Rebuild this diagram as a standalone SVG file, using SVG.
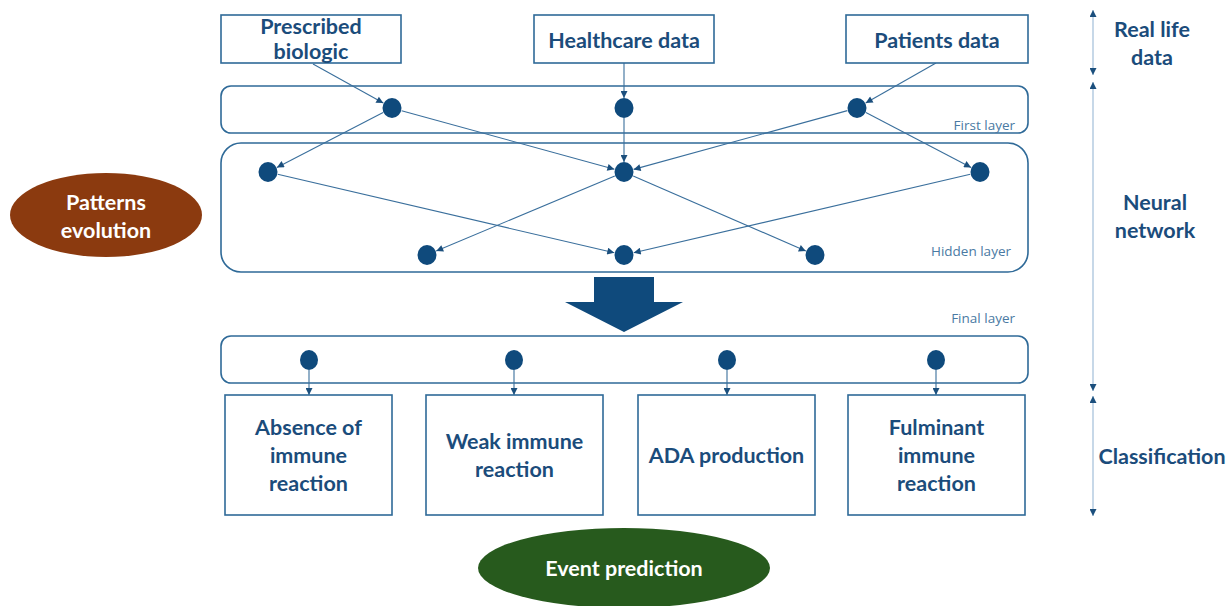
<svg xmlns="http://www.w3.org/2000/svg" width="1232" height="606" viewBox="0 0 1232 606">
<defs>
<style>
.box{fill:#fff;stroke:#2f6a98;stroke-width:1.6}
.layer{fill:#fff;stroke:#2f6a98;stroke-width:1.6}
.node{fill:#0f4a7c}
.t{font-family:Lato,"Open Sans","Liberation Sans",sans-serif;font-weight:bold;fill:#1b4c7b;font-size:21.5px;text-anchor:middle}
.w{fill:#fff}
.small{font-family:"Open Sans","Liberation Sans",sans-serif;font-size:13.5px;fill:#4a7aa3;text-anchor:end}
.ln{stroke:#3a6f9c;stroke-width:1.1;fill:none;marker-end:url(#ah)}
.scale{stroke:#b5cbe0;stroke-width:1.5;fill:none;marker-start:url(#sa);marker-end:url(#sa)}
</style>
<marker id="ah" viewBox="0 0 10 10" refX="10" refY="5" markerWidth="8" markerHeight="7" markerUnits="userSpaceOnUse" orient="auto">
<path d="M0,0 L10,5 L0,10 z" fill="#1b4f7d"/>
</marker>
<marker id="sa" viewBox="0 0 10 10" refX="10" refY="5" markerWidth="7" markerHeight="7" markerUnits="userSpaceOnUse" orient="auto-start-reverse">
<path d="M0,0 L10,5 L0,10 z" fill="#1b4f7d"/>
</marker>
</defs>
<rect width="1232" height="606" fill="#fff"/>

<g id="layer-first">
<rect class="layer" x="221" y="86" width="807" height="47" rx="10"/>
<text class="small" x="1015" y="130">First layer</text>
</g>
<g id="layer-hidden">
<rect class="layer" x="221" y="143" width="807" height="129" rx="20"/>
<text class="small" x="1011" y="256">Hidden layer</text>
</g>
<g id="layer-final">
<text class="small" x="1015" y="323">Final layer</text>
<rect class="layer" x="221" y="336" width="807" height="47" rx="10"/>
</g>

<g id="connectors">
<line class="ln" x1="313" y1="64" x2="383.3" y2="103.1"/>
<line class="ln" x1="624" y1="63" x2="624" y2="98"/>
<line class="ln" x1="936" y1="63" x2="865.7" y2="103"/>
<line class="ln" x1="383.1" y1="112.6" x2="276.9" y2="167.4"/>
<line class="ln" x1="401.6" y1="110.7" x2="614.4" y2="169.3"/>
<line class="ln" x1="624" y1="118" x2="624" y2="162"/>
<line class="ln" x1="847.4" y1="110.6" x2="633.6" y2="169.4"/>
<line class="ln" x1="865.9" y1="112.6" x2="971.1" y2="167.4"/>
<line class="ln" x1="277.7" y1="174.3" x2="614.3" y2="252.7"/>
<line class="ln" x1="614.8" y1="175.9" x2="436.2" y2="251.1"/>
<line class="ln" x1="633.2" y1="176" x2="805.8" y2="251"/>
<line class="ln" x1="970.3" y1="174.3" x2="633.7" y2="252.7"/>
<line class="ln" x1="309" y1="370" x2="309" y2="395"/>
<line class="ln" x1="514" y1="370" x2="514" y2="395"/>
<line class="ln" x1="727" y1="370" x2="727" y2="395"/>
<line class="ln" x1="936" y1="370" x2="936" y2="395"/>
<polygon points="594,277 654,277 654,302 683,302 624,332 565,302 594,302" fill="#0f4a7c"/>
</g>

<g id="scale">
<line class="scale" x1="1093" y1="10" x2="1093" y2="75"/>
<line class="scale" x1="1093" y1="82" x2="1093" y2="391"/>
<line class="scale" x1="1093" y1="396" x2="1093" y2="516"/>
</g>

<g id="nodes">
<ellipse class="node" cx="392" cy="108" rx="9.5" ry="10"/>
<ellipse class="node" cx="624" cy="108" rx="9.5" ry="10"/>
<ellipse class="node" cx="857" cy="108" rx="9.5" ry="10"/>
<ellipse class="node" cx="268" cy="172" rx="9.5" ry="10"/>
<ellipse class="node" cx="624" cy="172" rx="9.5" ry="10"/>
<ellipse class="node" cx="980" cy="172" rx="9.5" ry="10"/>
<ellipse class="node" cx="427" cy="255" rx="9.5" ry="10"/>
<ellipse class="node" cx="624" cy="255" rx="9.5" ry="10"/>
<ellipse class="node" cx="815" cy="255" rx="9.5" ry="10"/>
<ellipse class="node" cx="309" cy="360" rx="9" ry="10"/>
<ellipse class="node" cx="514" cy="360" rx="9" ry="10"/>
<ellipse class="node" cx="727" cy="360" rx="9" ry="10"/>
<ellipse class="node" cx="936" cy="360" rx="9" ry="10"/>
</g>

<g id="prescribed">
<rect class="box" x="221" y="15" width="180" height="48"/>
<text class="t" x="311" y="34">Prescribed</text>
<text class="t" x="311" y="59">biologic</text>
</g>
<g id="healthcare">
<rect class="box" x="534" y="15" width="180" height="48"/>
<text class="t" x="624" y="48">Healthcare data</text>
</g>
<g id="patients">
<rect class="box" x="846" y="15" width="182" height="48"/>
<text class="t" x="937" y="48">Patients data</text>
</g>

<g id="absence">
<rect class="box" x="225" y="395" width="167" height="120"/>
<text class="t" x="308.5" y="435">Absence of</text>
<text class="t" x="308.5" y="463">immune</text>
<text class="t" x="308.5" y="491">reaction</text>
</g>
<g id="weak">
<rect class="box" x="426" y="395" width="177" height="120"/>
<text class="t" x="514.5" y="449">Weak immune</text>
<text class="t" x="514.5" y="477">reaction</text>
</g>
<g id="ada">
<rect class="box" x="638" y="395" width="177" height="120"/>
<text class="t" x="726.5" y="463">ADA production</text>
</g>
<g id="fulminant">
<rect class="box" x="848" y="395" width="177" height="120"/>
<text class="t" x="936.5" y="435">Fulminant</text>
<text class="t" x="936.5" y="463">immune</text>
<text class="t" x="936.5" y="491">reaction</text>
</g>

<g id="patterns">
<ellipse cx="106" cy="215" rx="96" ry="42" fill="#8b3a0f"/>
<text class="t w" x="106" y="210">Patterns</text>
<text class="t w" x="106" y="238">evolution</text>
</g>
<g id="event">
<ellipse cx="624" cy="568" rx="146" ry="40" fill="#275a1d"/>
<text class="t w" x="624" y="576">Event prediction</text>
</g>

<g id="labels">
<text class="t" x="1152" y="37">Real life</text>
<text class="t" x="1152" y="65">data</text>
<text class="t" x="1155" y="210">Neural</text>
<text class="t" x="1155" y="238">network</text>
<text class="t" x="1162" y="464">Classification</text>
</g>
</svg>
